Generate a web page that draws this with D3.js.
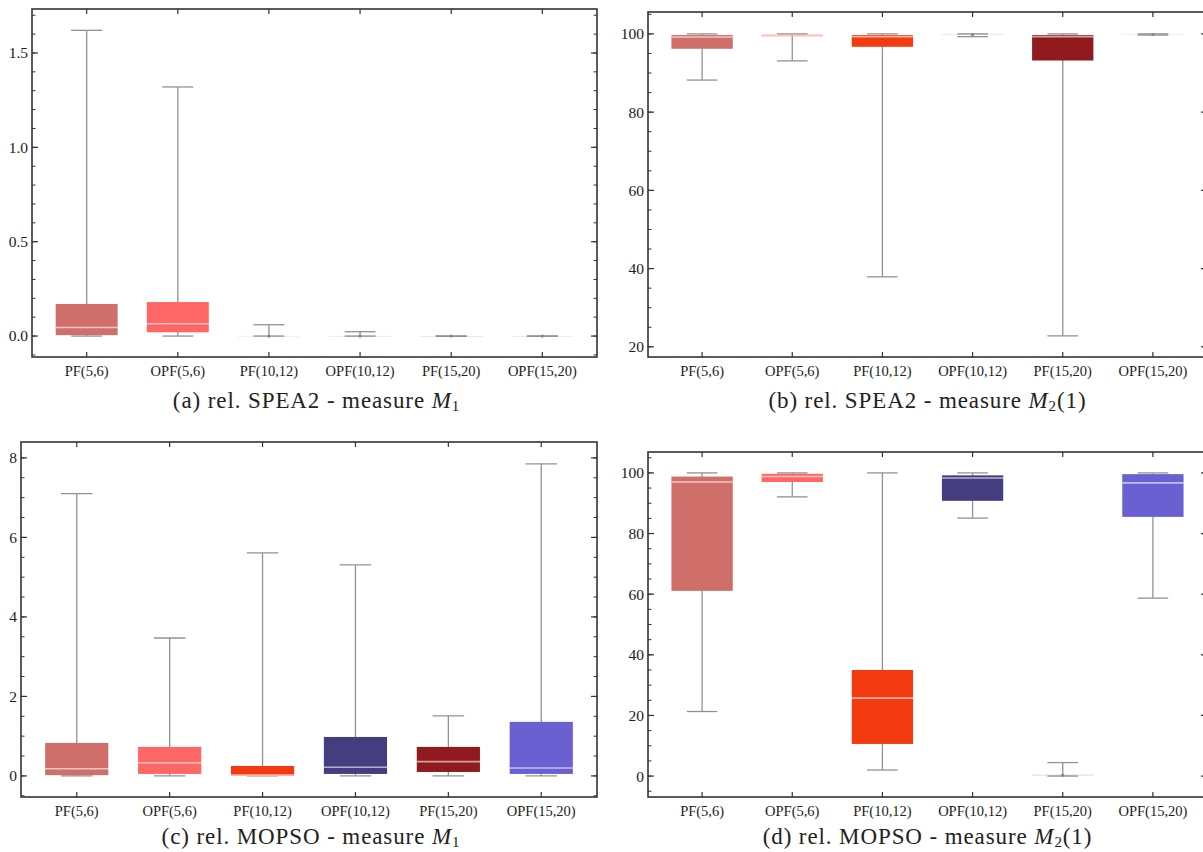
<!DOCTYPE html>
<html>
<head>
<meta charset="utf-8">
<script src="https://cdn.jsdelivr.net/npm/d3@7"></script>
<style>
  body { margin: 0; background: #fff; }
  svg { display: block; }
  .tk { font-family: "Liberation Serif", "Times New Roman", serif; fill: #222; }
  .cap { font-family: "Liberation Serif", "Times New Roman", serif; fill: #222; letter-spacing: 0.9px; }
</style>
</head>
<body>
<svg id="chart" width="1203" height="852"></svg>
<script>
var categories = ["PF(5,6)", "OPF(5,6)", "PF(10,12)", "OPF(10,12)", "PF(15,20)", "OPF(15,20)"];

// (a) rel. SPEA2 - measure M1
var speaM1Low  = [0, 0, 0, 0, 0, 0];
var speaM1Q1   = [0.005, 0.02, 0, 0, 0, 0];
var speaM1Med  = [0.045, 0.065, 0, 0, 0, 0];
var speaM1Q3   = [0.17, 0.18, 0.001, 0.001, 0, 0];
var speaM1High = [1.62, 1.32, 0.06, 0.023, 0, 0];

// (b) rel. SPEA2 - measure M2(1)
var speaM2Low  = [88.2, 93.1, 37.9, 99.3, 22.8, 99.7];
var speaM2Q1   = [96.2, 99.4, 96.7, 99.85, 93.2, 99.9];
var speaM2Med  = [99.2, 99.6, 99.3, 99.8, 99.3, 99.85];
var speaM2Q3   = [99.7, 99.8, 99.7, 100, 99.7, 100];
var speaM2High = [100, 100, 100, 100, 100, 100];

// (c) rel. MOPSO - measure M1
var mopsoM1Low  = [0, 0, 0, 0, 0, 0];
var mopsoM1Q1   = [0.02, 0.05, 0, 0.05, 0.1, 0.05];
var mopsoM1Med  = [0.18, 0.33, 0.02, 0.22, 0.36, 0.2];
var mopsoM1Q3   = [0.83, 0.73, 0.25, 0.98, 0.73, 1.36];
var mopsoM1High = [7.1, 3.47, 5.61, 5.31, 1.51, 7.85];

// (d) rel. MOPSO - measure M2(1)
var mopsoM2Low  = [21.3, 92.1, 2, 85.1, 0, 58.7];
var mopsoM2Q1   = [61.1, 97, 10.6, 90.8, 0.1, 85.5];
var mopsoM2Med  = [97, 98.8, 25.7, 98.3, 0.3, 96.7];
var mopsoM2Q3   = [98.8, 99.7, 35, 99.2, 0.5, 99.6];
var mopsoM2High = [100, 100, 100, 100, 4.45, 100];

var boxColors = ["#d06f69", "#ff6666", "#f43a10", "#443d80", "#901a1d", "#6a60d2"];

var ticksM1a = [0, 0.5, 1, 1.5];
var ticksM1c = [0, 2, 4, 6, 8];
var ticksM2  = [20, 40, 60, 80, 100];
var ticksM2d = [0, 20, 40, 60, 80, 100];

var svg = d3.select("#chart");

var panels = [
  { x0: 32, x1: 597, y0: 9, y1: 357, domain: [-0.111, 1.733], ticks: ticksM1a, minor: 0.1, fmt: d3.format(".1f"),
    low: speaM1Low, q1: speaM1Q1, med: speaM1Med, q3: speaM1Q3, high: speaM1High,
    letter: "(a) rel. SPEA2 - measure ", sub: "1", arg: "", capY: 400 },
  { x0: 648, x1: 1207, y0: 12, y1: 357, domain: [17.4, 105.6], ticks: ticksM2, minor: 5, fmt: d3.format("d"),
    low: speaM2Low, q1: speaM2Q1, med: speaM2Med, q3: speaM2Q3, high: speaM2High,
    letter: "(b) rel. SPEA2 - measure ", sub: "2", arg: "(1)", capY: 400 },
  { x0: 21, x1: 597, y0: 442, y1: 797, domain: [-0.53, 8.4], ticks: ticksM1c, minor: 0.5, fmt: d3.format("d"),
    low: mopsoM1Low, q1: mopsoM1Q1, med: mopsoM1Med, q3: mopsoM1Q3, high: mopsoM1High,
    letter: "(c) rel. MOPSO - measure ", sub: "1", arg: "", capY: 836 },
  { x0: 648, x1: 1207, y0: 452, y1: 797, domain: [-6.9, 106.9], ticks: ticksM2d, minor: 5, fmt: d3.format("d"),
    low: mopsoM2Low, q1: mopsoM2Q1, med: mopsoM2Med, q3: mopsoM2Q3, high: mopsoM2High,
    letter: "(d) rel. MOPSO - measure ", sub: "2", arg: "(1)", capY: 836 }
];

panels.forEach(drawPanel);

function drawPanel(p) {
  var g = svg.append("g");

  var x = d3.scalePoint()
      .domain(categories)
      .range([p.x0, p.x1])
      .padding(0.6);

  var y = d3.scaleLinear()
      .domain(p.domain)
      .range([p.y1, p.y0]);

  var step = x.step(),
      bw = step * 0.68,
      cw = bw / 2;

  // minor ticks on left and right, inward
  var minorTicks = d3.range(Math.ceil(p.domain[0] / p.minor) * p.minor, p.domain[1], p.minor)
    .map(function(v) { return Math.round(v * 1000) / 1000; });

  g.selectAll(".minorL")
    .data(minorTicks)
    .enter().append("line")
      .attr("x1", p.x0).attr("x2", p.x0 + 3.5)
      .attr("y1", function(d) { return y(d); })
      .attr("y2", function(d) { return y(d); })
      .attr("stroke", "#333").attr("stroke-width", 1);

  g.selectAll(".minorR")
    .data(minorTicks)
    .enter().append("line")
      .attr("x1", p.x1).attr("x2", p.x1 - 3.5)
      .attr("y1", function(d) { return y(d); })
      .attr("y2", function(d) { return y(d); })
      .attr("stroke", "#333").attr("stroke-width", 1);

  // major ticks
  g.selectAll(".majorL")
    .data(p.ticks)
    .enter().append("line")
      .attr("x1", p.x0).attr("x2", p.x0 + 6)
      .attr("y1", function(d) { return y(d); })
      .attr("y2", function(d) { return y(d); })
      .attr("stroke", "#333").attr("stroke-width", 1.2);

  g.selectAll(".majorR")
    .data(p.ticks)
    .enter().append("line")
      .attr("x1", p.x1).attr("x2", p.x1 - 6)
      .attr("y1", function(d) { return y(d); })
      .attr("y2", function(d) { return y(d); })
      .attr("stroke", "#333").attr("stroke-width", 1.2);

  g.selectAll(".ylab")
    .data(p.ticks)
    .enter().append("text")
      .attr("class", "tk")
      .attr("x", p.x0 - 4)
      .attr("y", function(d) { return y(d); })
      .attr("dy", "0.35em")
      .attr("text-anchor", "end")
      .style("font-size", "15.5px")
      .text(p.fmt);

  // category ticks top and bottom
  g.selectAll(".xtb")
    .data(categories)
    .enter().append("line")
      .attr("x1", function(d) { return x(d); })
      .attr("x2", function(d) { return x(d); })
      .attr("y1", p.y1).attr("y2", p.y1 - 5)
      .attr("stroke", "#333").attr("stroke-width", 1.2);

  g.selectAll(".xtt")
    .data(categories)
    .enter().append("line")
      .attr("x1", function(d) { return x(d); })
      .attr("x2", function(d) { return x(d); })
      .attr("y1", p.y0).attr("y2", p.y0 + 5)
      .attr("stroke", "#333").attr("stroke-width", 1.2);

  g.selectAll(".xlab")
    .data(categories)
    .enter().append("text")
      .attr("class", "tk")
      .attr("x", function(d) { return x(d); })
      .attr("y", p.y1 + 19)
      .attr("text-anchor", "middle")
      .style("font-size", "14.5px")
      .text(function(d) { return d; });

  var idx = d3.range(categories.length);

  // whisker stems
  g.selectAll(".stem")
    .data(idx)
    .enter().append("line")
      .attr("x1", function(i) { return x(categories[i]); })
      .attr("x2", function(i) { return x(categories[i]); })
      .attr("y1", function(i) { return y(p.low[i]); })
      .attr("y2", function(i) { return y(p.high[i]); })
      .attr("stroke", "#929292").attr("stroke-width", 1.3);

  // caps
  [p.low, p.high].forEach(function(arr) {
    g.selectAll(null)
      .data(idx)
      .enter().append("line")
        .attr("x1", function(i) { return x(categories[i]) - cw / 2; })
        .attr("x2", function(i) { return x(categories[i]) + cw / 2; })
        .attr("y1", function(i) { return y(arr[i]); })
        .attr("y2", function(i) { return y(arr[i]); })
        .attr("stroke", "#929292").attr("stroke-width", 1.3);
  });

  // boxes
  g.selectAll(".box")
    .data(idx)
    .enter().append("rect")
      .attr("x", function(i) { return x(categories[i]) - bw / 2; })
      .attr("width", bw)
      .attr("y", function(i) { return y(p.q3[i]); })
      .attr("height", function(i) { return Math.max(0.8, y(p.q1[i]) - y(p.q3[i])); })
      .attr("fill", function(i) { return boxColors[i]; })
      .attr("fill-opacity", function(i) { return y(p.q1[i]) - y(p.q3[i]) < 1.5 ? 0.15 : 1; });

  // medians
  g.selectAll(".med")
    .data(idx.filter(function(i) { return y(p.q1[i]) - y(p.q3[i]) >= 1.5; }))
    .enter().append("line")
      .attr("x1", function(i) { return x(categories[i]) - bw / 2; })
      .attr("x2", function(i) { return x(categories[i]) + bw / 2; })
      .attr("y1", function(i) { return y(p.med[i]); })
      .attr("y2", function(i) { return y(p.med[i]); })
      .attr("stroke", "#fff").attr("stroke-opacity", 0.6).attr("stroke-width", 1.6);

  // flat boxes get a dot at the median
  g.selectAll(".dot")
    .data(idx.filter(function(i) { return y(p.q1[i]) - y(p.q3[i]) < 1.5; }))
    .enter().append("circle")
      .attr("cx", function(i) { return x(categories[i]); })
      .attr("cy", function(i) { return y(p.med[i]); })
      .attr("r", 1.6)
      .attr("fill", "#888");

  // frame
  g.append("rect")
    .attr("x", p.x0).attr("y", p.y0)
    .attr("width", p.x1 - p.x0).attr("height", p.y1 - p.y0)
    .attr("fill", "none")
    .attr("stroke", "#333").attr("stroke-width", 1.6);

  // caption
  var cap = g.append("text")
    .attr("class", "cap")
    .attr("x", (p.x0 + Math.min(p.x1, 1203)) / 2 + 2)
    .attr("y", p.capY)
    .attr("dy", "0.35em")
    .attr("text-anchor", "middle")
    .style("font-size", "23px");
  cap.append("tspan").text(p.letter);
  cap.append("tspan").attr("font-style", "italic").text("M");
  cap.append("tspan").style("font-size", "15px").attr("dy", 2.5).text(p.sub);
  if (p.arg) cap.append("tspan").attr("dy", -2.5).text(p.arg);
}
</script>
</body>
</html>
